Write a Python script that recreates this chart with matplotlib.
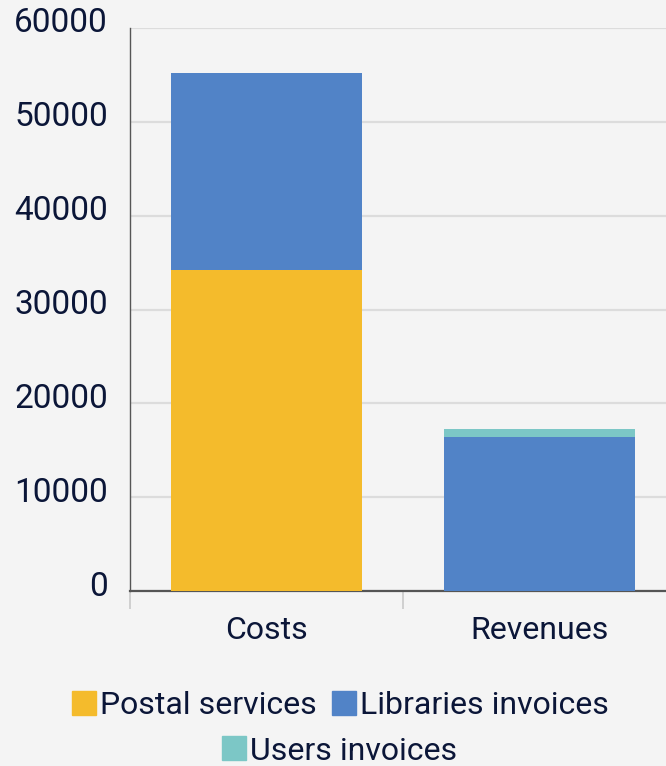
import matplotlib.pyplot as plt
import matplotlib.transforms as mtransforms
from matplotlib.lines import Line2D

# ---------- Data ----------
categories = ["Costs", "Revenues"]
postal = [34200, 0]
libraries = [21000, 16400]
users = [0, 850]
series_names = ["Postal services", "Libraries invoices", "Users invoices"]
colors = ["#f4bb2c", "#5183c7", "#7cc7c6"]
yticks = [0, 10000, 20000, 30000, 40000, 50000, 60000]

txt = "#0b1638"
bg = "#f4f4f4"
plt.rcParams['font.family'] = ['Roboto', 'DejaVu Sans']

fig = plt.figure(figsize=(6.66, 7.66), dpi=100, facecolor=bg)
ax = fig.add_axes([130 / 666, 175 / 766, 546 / 666, 563 / 766], facecolor=bg)

x = list(range(len(categories)))
w = 0.70
ax.bar(x, postal, w, color=colors[0], zorder=3)
ax.bar(x, libraries, w, bottom=postal, color=colors[1], zorder=3)
base2 = [p + l for p, l in zip(postal, libraries)]
ax.bar(x, users, w, bottom=base2, color=colors[2], zorder=3)

ax.set_xlim(-0.5, 1.5)
ax.set_ylim(0, 60000)
ax.set_yticks(yticks)
ax.set_yticklabels([str(v) for v in yticks])
ax.yaxis.grid(True, color="#dcdcdc", linewidth=1.6, zorder=0)
ax.set_axisbelow(True)

ax.set_xticks(x)
ax.set_xticklabels(categories)
ax.set_xticks([-0.5, 0.5, 1.5], minor=True)
ax.tick_params(axis="x", which="major", length=0, pad=18, labelsize=23, labelcolor=txt)
ax.tick_params(axis="x", which="minor", length=13, width=1.4, color="#d0d0d0")
ax.tick_params(axis="y", length=0, pad=16, labelsize=24, labelcolor=txt)

# shift y labels up a bit, like the reference
off = mtransforms.ScaledTranslation(0, 8 / 100, fig.dpi_scale_trans)
for lab in ax.get_yticklabels():
    lab.set_transform(lab.get_transform() + off)

for s in ["top", "right"]:
    ax.spines[s].set_visible(False)
ax.spines["left"].set_color("#555555")
ax.spines["left"].set_linewidth(1.0)
ax.spines["bottom"].set_color("#555555")
ax.spines["bottom"].set_linewidth(1.6)

handles = [Line2D([], [], marker="s", linestyle="none", markersize=17,
                  markerfacecolor=c, markeredgecolor=c) for c in colors]
leg1 = fig.legend(handles[:2], series_names[:2], loc="center", ncol=2,
                  bbox_to_anchor=(341 / 666, 60 / 766), frameon=False,
                  fontsize=23, handlelength=0.7, handletextpad=0.15,
                  columnspacing=0.5, labelcolor=txt)
leg2 = fig.legend(handles[2:], series_names[2:], loc="center",
                  bbox_to_anchor=(340 / 666, 15 / 766), frameon=False,
                  fontsize=23, handlelength=0.7, handletextpad=0.15,
                  labelcolor=txt)

fig.savefig("out.png", dpi=100, facecolor=bg)
